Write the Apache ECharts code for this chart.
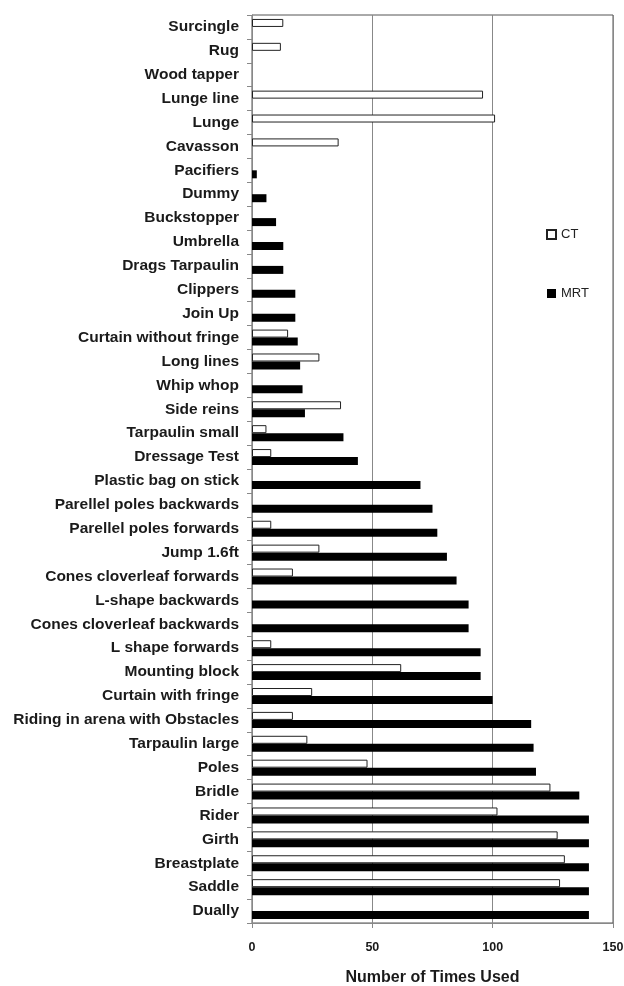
<!DOCTYPE html>
<html>
<head>
<meta charset="utf-8">
<script src="https://cdn.jsdelivr.net/npm/echarts@6/dist/echarts.min.js"></script>
<style>
  html, body { margin: 0; padding: 0; background: #fff; }
  #chart { width: 624px; height: 986px; }
</style>
</head>
<body>
<div id="chart"></div>
<script>
// categories, top to bottom
var categories = [
  "Surcingle", "Rug", "Wood tapper", "Lunge line", "Lunge", "Cavasson",
  "Pacifiers", "Dummy", "Buckstopper", "Umbrella", "Drags Tarpaulin",
  "Clippers", "Join Up", "Curtain without fringe", "Long lines", "Whip whop",
  "Side reins", "Tarpaulin small", "Dressage Test", "Plastic bag on stick",
  "Parellel poles backwards", "Parellel poles forwards", "Jump 1.6ft",
  "Cones cloverleaf forwards", "L-shape backwards", "Cones cloverleaf backwards",
  "L shape forwards", "Mounting block", "Curtain with fringe",
  "Riding in arena with Obstacles", "Tarpaulin large", "Poles", "Bridle",
  "Rider", "Girth", "Breastplate", "Saddle", "Dually"
];
var ctValues = [
  13, 12, null, 96, 101, 36,
  null, null, null, null, null,
  null, null, 15, 28, null,
  37, 6, 8, null,
  null, 8, 28,
  17, null, null,
  8, 62, 25,
  17, 23, 48, 124,
  102, 127, 130, 128, null
];
var mrtValues = [
  null, null, null, null, null, null,
  2, 6, 10, 13, 13,
  18, 18, 19, 20, 21,
  22, 38, 44, 70,
  75, 77, 81,
  85, 90, 90,
  95, 95, 100,
  116, 117, 118, 136,
  140, 140, 140, 140, 140
];
var xTicks = [0, 50, 100, 150];

var chart = echarts.init(document.getElementById("chart"));
var labelFont = "'Liberation Sans', Arial, sans-serif";

var option = {
  backgroundColor: "#fff",
  animation: false,
  legend: {
    orient: "vertical",
    left: 541,
    top: 223,
    itemGap: 46,
    itemWidth: 9,
    itemHeight: 9,
    icon: "rect",
    textStyle: { fontFamily: labelFont, fontSize: 13, color: "#222" },
    data: ["CT", "MRT"]
  },
  grid: {
    left: 252,
    right: 11,
    top: 15,
    bottom: 63,
    outerBoundsMode: "none",
    show: true,
    borderColor: "#555",
    borderWidth: 1
  },
  xAxis: {
    type: "value",
    min: xTicks[0],
    max: xTicks[xTicks.length - 1],
    interval: 50,
    name: "Number of Times Used",
    nameLocation: "middle",
    nameGap: 47,
    nameTextStyle: { fontFamily: labelFont, fontSize: 16, fontWeight: "bold", color: "#1a1a1a" },
    axisLine: { show: true, lineStyle: { color: "#888", width: 1 } },
    axisTick: { show: true, length: 5, lineStyle: { color: "#888" } },
    axisLabel: { fontFamily: labelFont, fontSize: 12.5, fontWeight: "bold", color: "#1a1a1a", margin: 18 },
    splitLine: { show: true, lineStyle: { color: "#888", width: 1 } }
  },
  yAxis: {
    type: "category",
    inverse: true,
    data: categories,
    axisLine: { show: true, lineStyle: { color: "#888", width: 1 } },
    axisTick: { show: true, length: 5, lineStyle: { color: "#888" } },
    axisLabel: { fontFamily: labelFont, fontSize: 15.5, fontWeight: "bold", color: "#1a1a1a", margin: 13, interval: 0 },
    splitLine: { show: false }
  },
  series: [
    {
      name: "CT",
      type: "bar",
      barWidth: 8,
      barGap: "0%",
      data: ctValues,
      itemStyle: { color: "#fff", borderColor: "#222", borderWidth: 1 }
    },
    {
      name: "MRT",
      type: "bar",
      barWidth: 8,
      barGap: "0%",
      data: mrtValues,
      itemStyle: { color: "#000", borderColor: "#000", borderWidth: 0 }
    }
  ]
};

chart.setOption(option);
</script>
</body>
</html>
